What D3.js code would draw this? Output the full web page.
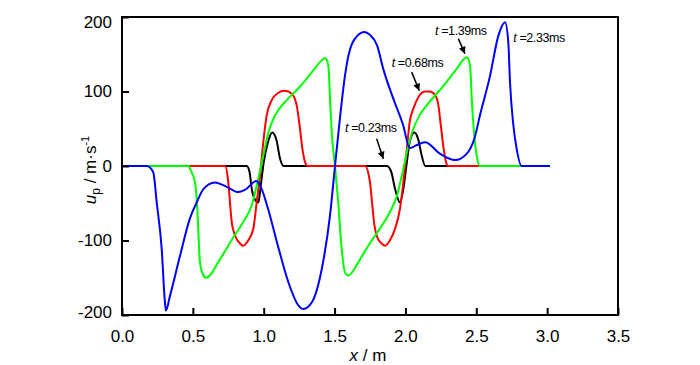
<!DOCTYPE html>
<html>
<head>
<meta charset="utf-8">
<script src="https://cdn.jsdelivr.net/npm/d3@7"></script>
<style>
  html, body { margin: 0; padding: 0; background: #fff; }
  svg { display: block; font-family: Arial, "Liberation Sans", sans-serif; }
</style>
</head>
<body>
<svg id="chart" width="700" height="365"></svg>
<script>
// ---------- data ----------
const xTicks = [0, 0.5, 1.0, 1.5, 2.0, 2.5, 3.0, 3.5];
const yTicks = [-200, -100, 0, 100, 200];

const blackX = [0, 0.88, 0.90, 0.915, 0.935, 0.962, 0.98, 1.0, 1.03, 1.06, 1.09, 1.115, 1.14,
                1.87, 1.90, 1.927, 1.962, 1.985, 2.01, 2.03, 2.063, 2.09, 2.115, 2.14, 3.02];
const blackY = [0, 0, -8, -30, -44, -49, -25, 5, 32, 45, 35, 10, 0,
                0, -8, -31, -49, -31, 5, 32, 45, 36, 14, 0, 0];

const redX = [0, 0.727, 0.75, 0.762, 0.774, 0.797, 0.833, 0.856, 0.89, 0.927, 0.95, 0.974, 0.997,
              1.021, 1.056, 1.10, 1.15, 1.198, 1.233, 1.256, 1.273, 1.296, 1.31,
              1.715, 1.75, 1.765, 1.78, 1.80, 1.833, 1.856, 1.89, 1.927, 1.962, 1.985, 2.01, 2.03,
              2.056, 2.09, 2.138, 2.17, 2.21, 2.233, 2.25, 2.27, 2.287, 2.30, 3.02];
const redY = [0, 0, -22, -49, -75, -93, -104, -107, -100, -84, -49, -13, 32,
              68, 88, 98, 101, 97, 81, 50, 23, 3, 0,
              0, -22, -50, -78, -95, -104, -107, -100, -84, -57, -22, 23, 59,
              77, 92, 100, 100, 95, 81, 54, 23, 5, 0, 0];

const greenX = [0, 0.468, 0.49, 0.515, 0.531, 0.539, 0.55, 0.57, 0.593, 0.692, 0.785, 0.856, 0.915,
                0.962, 0.997, 1.033, 1.08, 1.15, 1.244, 1.34, 1.41, 1.433, 1.456, 1.468, 1.48, 1.503,
                1.526, 1.55, 1.574, 1.597, 1.668, 1.738, 1.82, 1.89, 1.94, 1.985, 2.02, 2.056, 2.10,
                2.17, 2.27, 2.36, 2.433, 2.456, 2.468, 2.484, 2.503, 2.526, 3.02];
const greenY = [0, 0, -8, -22, -57, -89, -129, -145, -150, -125, -96, -75, -53,
                -17, 14, 45, 68, 86, 104, 126, 142, 145, 135, 90, 45, 0,
                -49, -111, -143, -147, -129, -107, -84, -62, -40, -4, 27, 50, 68,
                86, 108, 130, 146, 135, 90, 45, 14, 0, 0];

const blueX = [0, 0.174, 0.22, 0.245, 0.28, 0.303, 0.31, 0.339, 0.41, 0.48, 0.527, 0.574, 0.656,
               0.739, 0.82, 0.868, 0.95, 0.986, 1.03, 1.10, 1.174, 1.244, 1.28, 1.34, 1.41, 1.468,
               1.503, 1.54, 1.574, 1.60, 1.64, 1.71, 1.75, 1.80, 1.844, 1.915, 1.985, 2.03, 2.068, 2.14,
               2.24, 2.35, 2.43, 2.49, 2.526, 2.597, 2.656, 2.703, 2.726, 2.738, 2.762, 2.785, 2.82, 3.02];
const blueY = [0, 0, -8, -49, -111, -183, -194, -174, -120, -70, -49, -31, -22,
               -28, -35, -32, -20, -31, -57, -107, -156, -187, -192, -183, -138, -66,
               0, 68, 122, 150, 170, 180, 176, 162, 130, 90, 54, 24, 27, 32,
               17, 8, 16, 39, 68, 121, 175, 193, 166, 112, 54, 23, 0, 0];

const seriesNames  = ["t=0.23ms", "t=0.68ms", "t=1.39ms", "t=2.33ms"];
const seriesColors = ["#000000", "#ff0000", "#00ff00", "#0000ff"];

// annotation labels: value part after "t ", anchor (data coords), arrow start & tip (data coords)
const annoText  = ["=0.23ms", "=0.68ms", "=1.39ms", "=2.33ms"];
const annoPos   = [[1.574, 45], [1.903, 133], [2.209, 176], [2.761, 167]];
const arrowFrom = [[1.797, 36.5], [2.044, 126], [2.373, 171], null];
const arrowTo   = [[1.844, 9.7], [2.098, 101], [2.42, 150.6], null];

// ---------- layout ----------
const svg = d3.select("#chart");
const L = 122, R = 618, T = 17, B = 315;
const x = d3.scaleLinear().domain([0, 3.5]).range([L, R]);
const y = d3.scaleLinear().domain([-200, 200]).range([B, T]);

const defs = svg.append("defs");
defs.append("marker")
  .attr("id", "arrow").attr("viewBox", "0 0 10 10")
  .attr("refX", 10).attr("refY", 5)
  .attr("markerWidth", 10).attr("markerHeight", 7)
  .attr("markerUnits", "userSpaceOnUse")
  .attr("orient", "auto")
  .append("path").attr("d", "M0,0 L10,5 L0,10 Z").attr("fill", "#000");

// curves
const xsAll = [blackX, redX, greenX, blueX];
const ysAll = [blackY, redY, greenY, blueY];
const line = d3.line().x(d => x(d[0])).y(d => y(d[1])).curve(d3.curveMonotoneX);
xsAll.forEach((xs, i) => {
  const pts = xs.map((v, j) => [v, ysAll[i][j]]);
  svg.append("path")
    .datum(pts)
    .attr("d", line)
    .attr("fill", "none")
    .attr("stroke", seriesColors[i])
    .attr("stroke-width", 2)
    .attr("stroke-linejoin", "round")
    .attr("data-name", seriesNames[i]);
});

// axes (ticks inside)
const xAxis = d3.axisBottom(x).tickValues(xTicks).tickFormat(d3.format(".1f"))
  .tickSizeInner(-7).tickSizeOuter(0).tickPadding(15);
const gx = svg.append("g").attr("transform", `translate(0,${B})`).call(xAxis);
gx.select(".domain").remove();
gx.selectAll(".tick line").attr("stroke", "#000").attr("stroke-width", 2);
gx.selectAll(".tick text").attr("font-size", 17).attr("fill", "#000")
  .attr("font-family", "Arial, 'Liberation Sans', sans-serif");

const yAxis = d3.axisLeft(y).tickValues(yTicks).tickFormat(d => String(d))
  .tickSizeInner(-7).tickSizeOuter(0).tickPadding(10);
const gy = svg.append("g").attr("transform", `translate(${L},0)`).call(yAxis);
gy.select(".domain").remove();
gy.selectAll(".tick line").attr("stroke", "#000").attr("stroke-width", 2);
gy.selectAll(".tick text").attr("font-size", 17).attr("fill", "#000")
  .attr("font-family", "Arial, 'Liberation Sans', sans-serif")
  .attr("dy", d => d === 200 ? "0.6em" : d === -200 ? "0.15em" : "0.32em");

// frame
svg.append("rect").attr("x", L).attr("y", T).attr("width", R - L).attr("height", B - T)
  .attr("fill", "none").attr("stroke", "#000").attr("stroke-width", 2);

// axis titles
const xt = svg.append("text").attr("x", 368).attr("y", 361).attr("text-anchor", "middle")
  .attr("font-size", 17).attr("fill", "#000");
xt.append("tspan").attr("font-style", "italic").text("x");
xt.append("tspan").text(" / m");

const yt = svg.append("text").attr("transform", "translate(96,170) rotate(-90)")
  .attr("text-anchor", "middle").attr("font-size", 17).attr("fill", "#000");
yt.append("tspan").attr("font-style", "italic").text("u");
yt.append("tspan").attr("font-size", 12).attr("dy", 4).text("p");
yt.append("tspan").attr("dy", -4).text(" / m·s");
yt.append("tspan").attr("font-size", 11).attr("dy", -7).text("-1");

// annotations
annoText.forEach((t, i) => {
  const tx = svg.append("text")
    .attr("x", x(annoPos[i][0])).attr("y", y(annoPos[i][1]))
    .attr("font-size", 12.5).attr("letter-spacing", -0.4).attr("fill", "#000");
  tx.append("tspan").attr("font-style", "italic").text("t");
  tx.append("tspan").text(" " + t);
  if (arrowFrom[i]) {
    svg.append("line")
      .attr("x1", x(arrowFrom[i][0])).attr("y1", y(arrowFrom[i][1]))
      .attr("x2", x(arrowTo[i][0])).attr("y2", y(arrowTo[i][1]))
      .attr("stroke", "#000").attr("stroke-width", 1.5)
      .attr("marker-end", "url(#arrow)");
  }
});
</script>
</body>
</html>
